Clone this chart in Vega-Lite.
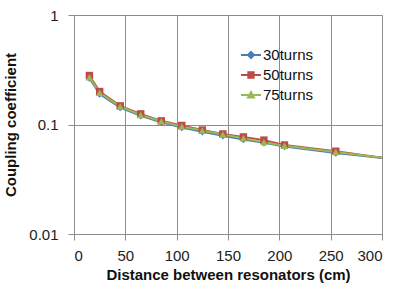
{
  "$schema": "https://vega.github.io/schema/vega-lite/v6.json",
  "width": 308,
  "height": 219,
  "autosize": {"type": "none"},
  "padding": {"left": 74, "top": 15, "right": 16, "bottom": 56},
  "background": "white",
  "config": {
    "view": {"stroke": null},
    "font": "Liberation Sans",
    "axis": {
      "labelFont": "Liberation Sans",
      "labelFontSize": 15,
      "labelColor": "#222222",
      "titleFont": "Liberation Sans",
      "titleFontSize": 15,
      "titleFontWeight": "bold",
      "titleColor": "#111111",
      "gridColor": "#8c8c8c",
      "gridOpacity": 1,
      "domainColor": "#8c8c8c",
      "tickColor": "#8c8c8c",
      "tickSize": 6
    }
  },
  "data": {
    "values": [
      {"d": 15, "k": 0.265, "s": "30turns"},
      {"d": 25, "k": 0.19, "s": "30turns"},
      {"d": 45, "k": 0.143, "s": "30turns"},
      {"d": 65, "k": 0.12, "s": "30turns"},
      {"d": 85, "k": 0.105, "s": "30turns"},
      {"d": 105, "k": 0.094, "s": "30turns"},
      {"d": 125, "k": 0.086, "s": "30turns"},
      {"d": 145, "k": 0.079, "s": "30turns"},
      {"d": 165, "k": 0.073, "s": "30turns"},
      {"d": 185, "k": 0.068, "s": "30turns"},
      {"d": 205, "k": 0.063, "s": "30turns"},
      {"d": 255, "k": 0.055, "s": "30turns"},
      {"d": 305, "k": 0.049, "s": "30turns"},
      {"d": 15, "k": 0.28, "s": "50turns"},
      {"d": 25, "k": 0.2, "s": "50turns"},
      {"d": 45, "k": 0.148, "s": "50turns"},
      {"d": 65, "k": 0.125, "s": "50turns"},
      {"d": 85, "k": 0.108, "s": "50turns"},
      {"d": 105, "k": 0.098, "s": "50turns"},
      {"d": 125, "k": 0.089, "s": "50turns"},
      {"d": 145, "k": 0.082, "s": "50turns"},
      {"d": 165, "k": 0.077, "s": "50turns"},
      {"d": 185, "k": 0.072, "s": "50turns"},
      {"d": 205, "k": 0.065, "s": "50turns"},
      {"d": 255, "k": 0.057, "s": "50turns"},
      {"d": 305, "k": 0.049, "s": "50turns"},
      {"d": 15, "k": 0.27, "s": "75turns"},
      {"d": 25, "k": 0.195, "s": "75turns"},
      {"d": 45, "k": 0.146, "s": "75turns"},
      {"d": 65, "k": 0.122, "s": "75turns"},
      {"d": 85, "k": 0.107, "s": "75turns"},
      {"d": 105, "k": 0.096, "s": "75turns"},
      {"d": 125, "k": 0.088, "s": "75turns"},
      {"d": 145, "k": 0.081, "s": "75turns"},
      {"d": 165, "k": 0.075, "s": "75turns"},
      {"d": 185, "k": 0.069, "s": "75turns"},
      {"d": 205, "k": 0.064, "s": "75turns"},
      {"d": 255, "k": 0.056, "s": "75turns"},
      {"d": 305, "k": 0.049, "s": "75turns"}
    ]
  },
  "encoding": {
    "x": {
      "field": "d",
      "type": "quantitative",
      "scale": {"domain": [0, 300], "nice": false, "zero": false},
      "axis": {"values": [0, 50, 100, 150, 200, 250, 300], "title": "Distance between resonators (cm)", "labelPadding": 8, "titlePadding": 4}
    },
    "y": {
      "field": "k",
      "type": "quantitative",
      "scale": {"type": "log", "domain": [0.01, 1], "nice": false},
      "axis": {"values": [0.01, 0.1, 1], "format": "~g", "title": "Coupling coefficient", "labelPadding": 10, "titlePadding": 10}
    }
  },
  "layer": [
    {
      "mark": {"type": "line", "strokeWidth": 2, "clip": true},
      "encoding": {
        "color": {
          "field": "s",
          "type": "nominal",
          "scale": {"domain": ["30turns", "50turns", "75turns"], "range": ["#4A7EBB", "#BE4B48", "#98B954"]},
          "legend": {
            "title": null,
            "orient": "none",
            "legendX": 166,
            "legendY": 29,
            "labelFont": "Liberation Sans",
            "labelFontSize": 15,
            "labelColor": "#111111",
            "labelOffset": 1,
            "rowPadding": 1,
            "symbolSize": 400,
            "encode": {
              "symbols": {
                "update": {
                  "shape": {"signal": "datum.value === '30turns' ? 'M-1,0H1M-0.3,0L0,-0.3L0.3,0L0,0.3Z' : datum.value === '50turns' ? 'M-1,0H1M-0.27,-0.27H0.27V0.27H-0.27Z' : 'M-1,0H1M-0.3,0.25L0,-0.3L0.3,0.25Z'"},
                  "stroke": {"scale": "color", "field": "value"},
                  "fill": {"scale": "color", "field": "value"},
                  "strokeWidth": {"value": 2},
                  "opacity": {"value": 1}
                }
              }
            }
          }
        }
      }
    },
    {
      "transform": [{"filter": "datum.d <= 300"}],
      "mark": {"type": "point", "filled": true, "opacity": 1, "clip": true},
      "encoding": {
        "color": {"field": "s", "type": "nominal", "legend": null},
        "shape": {
          "condition": [
            {"test": "datum.s === '30turns'", "value": "diamond"},
            {"test": "datum.s === '50turns'", "value": "square"}
          ],
          "value": "triangle-up"
        },
        "size": {"value": 55}
      }
    }
  ]
}
